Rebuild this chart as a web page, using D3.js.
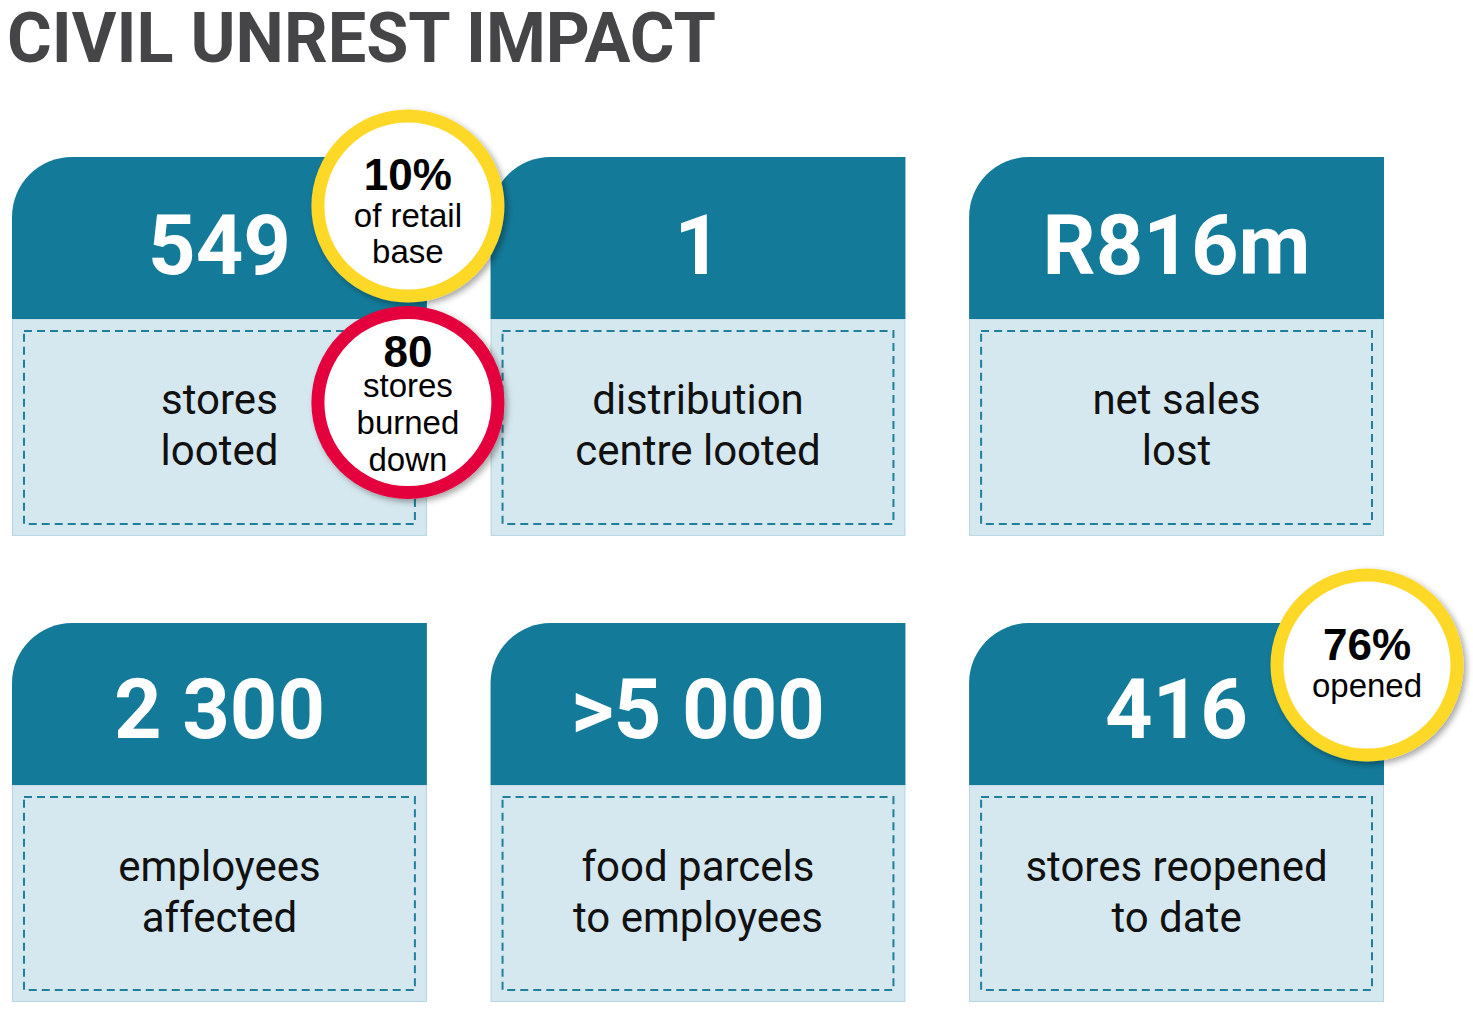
<!DOCTYPE html>
<html>
<head>
<meta charset="utf-8">
<script src="https://cdn.jsdelivr.net/npm/d3@7"></script>
<style>
  html, body { margin: 0; padding: 0; background: #ffffff; }
  svg { display: block; }
</style>
</head>
<body>
<div id="chart"></div>
<script>
// ---------- data ----------
const titleText = "CIVIL UNREST IMPACT";
const metricValues = ["549", "1", "R816m", "2 300", ">5 000", "416"];
const metricLabels = [
  ["stores", "looted"],
  ["distribution", "centre looted"],
  ["net sales", "lost"],
  ["employees", "affected"],
  ["food parcels", "to employees"],
  ["stores reopened", "to date"]
];
const badgeCards = [0, 0, 5];
const badgeKinds = ["highlight", "alert", "highlight"];
const badgeLines = [
  ["10%", "of retail", "base"],
  ["80", "stores", "burned", "down"],
  ["76%", "opened"]
];

// ---------- layout ----------
const W = 1473, H = 1016;
const svg = d3.select("#chart").append("svg").attr("width", W).attr("height", H);

const cols = d3.scaleBand().domain([0, 1, 2]).range([12, 1384]).paddingInner(0.133);
const rows = d3.scaleBand().domain([0, 1]).range([157, 1002]).paddingInner(0.187);
const headerH = 162;
const radius = 60;
const colors = { header: "#137a99", body: "#d6e8ef", bodyEdge: "#b5d6e2", dash: "#1f7f9d",
                 title: "#454547", highlight: "#fdd828", alert: "#e4003d" };

const defs = svg.append("defs");
const f = defs.append("filter").attr("id", "shadow").attr("x", "-20%").attr("y", "-20%")
  .attr("width", "150%").attr("height", "150%");
f.append("feDropShadow").attr("dx", 3).attr("dy", 3).attr("stdDeviation", 3)
  .attr("flood-color", "#000").attr("flood-opacity", 0.35);

// title
svg.append("text")
  .attr("x", 7).attr("y", 62)
  .attr("textLength", 709).attr("lengthAdjust", "spacingAndGlyphs")
  .style("font-family", "Roboto, 'Liberation Sans', sans-serif")
  .style("font-weight", 700).style("font-size", "70px")
  .attr("fill", colors.title)
  .text(titleText);

const cards = metricValues.map((v, i) => ({ value: v, label: metricLabels[i], col: i % 3, row: Math.floor(i / 3) }));

const g = svg.selectAll("g.card").data(cards).join("g").attr("class", "card")
  .attr("transform", d => `translate(${cols(d.col)},${rows(d.row)})`);

const cw = cols.bandwidth(), ch = rows.bandwidth();

// body
g.append("rect").attr("x", 0.5).attr("y", headerH).attr("width", cw - 1).attr("height", ch - headerH - 0.5)
  .attr("fill", colors.body).attr("stroke", colors.bodyEdge).attr("stroke-width", 1);
// header with rounded top-left corner
g.append("path")
  .attr("d", `M0,${headerH} V${radius} A${radius},${radius} 0 0 1 ${radius},0 H${cw} V${headerH} Z`)
  .attr("fill", colors.header);
// dashed inner box
g.append("rect").attr("x", 12).attr("y", headerH + 12).attr("width", cw - 24).attr("height", ch - headerH - 24)
  .attr("fill", "none").attr("stroke", colors.dash).attr("stroke-width", 2)
  .attr("stroke-dasharray", "8,5");
// value
g.append("text").attr("x", cw / 2).attr("y", d => d.row === 0 ? 117 : 115)
  .attr("text-anchor", "middle")
  .style("font-family", "Roboto, sans-serif").style("font-weight", 700).style("font-size", "83px")
  .attr("fill", "#ffffff").text(d => d.value);
// label
g.each(function(d) {
  const bodyMid = headerH + (ch - headerH) / 2;
  const t = d3.select(this).append("text").attr("text-anchor", "middle")
    .style("font-family", "Roboto, sans-serif").style("font-size", "42px").attr("fill", "#111");
  d.label.forEach((line, k) => {
    t.append("tspan").attr("x", cw / 2).attr("y", bodyMid - 13 + k * 51).text(line);
  });
});

// badges
const badgeOffsets = [
  { cy: 49, lines: [-16, 21, 57] },
  { cy: 245.5, lines: [-35.5, -5.5, 31.5, 68.5] },
  { cy: 42, lines: [-5, 32] }
];
const badges = badgeCards.map((c, i) => ({ card: cards[c], kind: badgeKinds[i], lines: badgeLines[i], off: badgeOffsets[i] }));

const bg = svg.selectAll("g.badge").data(badges).join("g").attr("class", "badge")
  .attr("transform", d => `translate(${cols(d.card.col) + cw - (d.card.row === 0 ? 19 : 17)},${rows(d.card.row) + d.off.cy})`);
bg.append("circle").attr("r", 90).attr("fill", "#fff")
  .attr("stroke", d => colors[d.kind]).attr("stroke-width", 13)
  .attr("filter", "url(#shadow)");
bg.each(function(d) {
  const t = d3.select(this).append("text").attr("text-anchor", "middle")
    .style("font-family", "'Liberation Sans', Arial, sans-serif").attr("fill", "#000");
  d.lines.forEach((line, k) => {
    t.append("tspan").attr("x", 0).attr("y", d.off.lines[k])
      .style("font-weight", k === 0 ? 700 : 400)
      .style("font-size", k === 0 ? "44px" : "33px")
      .text(line);
  });
});
</script>
</body>
</html>
